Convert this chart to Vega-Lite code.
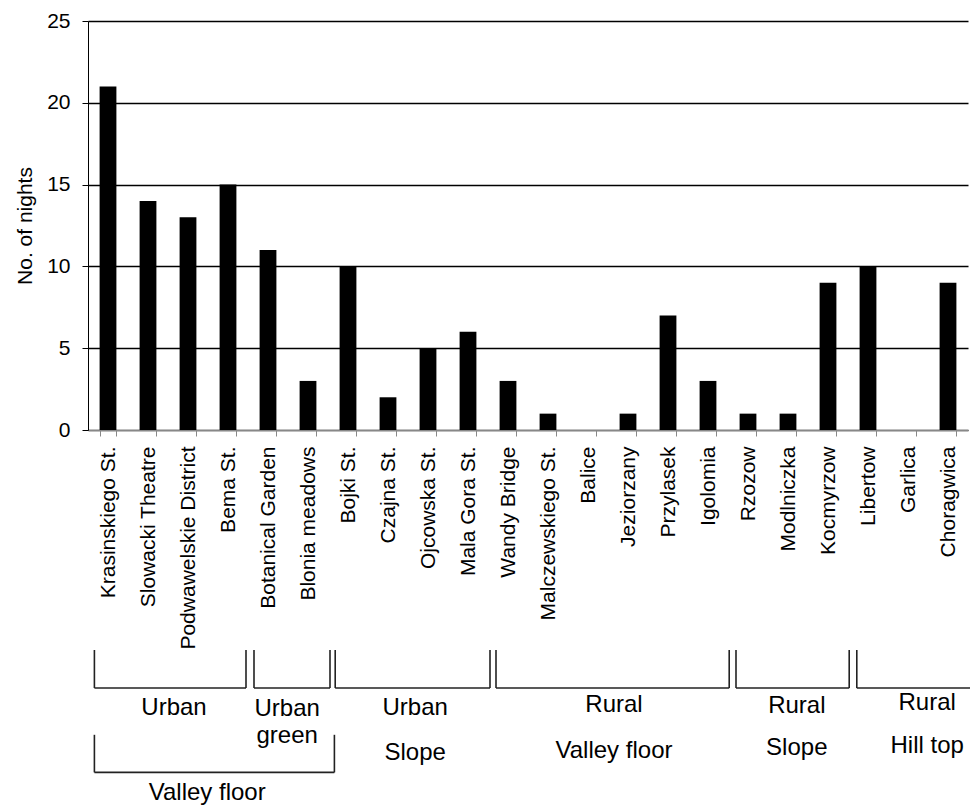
{
  "$schema": "https://vega.github.io/schema/vega-lite/v6.json",
  "padding": {"left": 14, "top": 10, "right": 0, "bottom": 0},
  "background": "white",
  "config": {
    "font": "Liberation Sans",
    "view": {"stroke": null},
    "concat": {"spacing": -3}
  },
  "datasets": {
    "nights": [
      {"site": "Krasinskiego St.", "nights": 21},
      {"site": "Slowacki Theatre", "nights": 14},
      {"site": "Podwawelskie District", "nights": 13},
      {"site": "Bema St.", "nights": 15},
      {"site": "Botanical Garden", "nights": 11},
      {"site": "Blonia meadows", "nights": 3},
      {"site": "Bojki St.", "nights": 10},
      {"site": "Czajna St.", "nights": 2},
      {"site": "Ojcowska St.", "nights": 5},
      {"site": "Mala Gora St.", "nights": 6},
      {"site": "Wandy Bridge", "nights": 3},
      {"site": "Malczewskiego St.", "nights": 1},
      {"site": "Balice", "nights": 0},
      {"site": "Jeziorzany", "nights": 1},
      {"site": "Przylasek", "nights": 7},
      {"site": "Igolomia", "nights": 3},
      {"site": "Rzozow", "nights": 1},
      {"site": "Modlniczka", "nights": 1},
      {"site": "Kocmyrzow", "nights": 9},
      {"site": "Libertow", "nights": 10},
      {"site": "Garlica", "nights": 0},
      {"site": "Choragwica", "nights": 9}
    ],
    "brackets": [
      {"group": "Urban", "start": 0.16, "end": 3.95, "top": 0, "bottom": 0.95},
      {"group": "Urban green", "start": 4.15, "end": 6.05, "top": 0, "bottom": 0.95},
      {"group": "Urban slope", "start": 6.18, "end": 10.05, "top": 0, "bottom": 0.95},
      {"group": "Rural valley floor", "start": 10.2, "end": 16.03, "top": 0, "bottom": 0.95},
      {"group": "Rural slope", "start": 16.2, "end": 19.03, "top": 0, "bottom": 0.95},
      {"group": "Rural hill top", "start": 19.22, "end": 22.1, "top": 0, "bottom": 0.95},
      {"group": "Valley floor", "start": 0.16, "end": 6.16, "top": 2.12, "bottom": 3.06}
    ],
    "labels": [
      {"label": "Urban", "pos": 2.15, "tier": 1.45},
      {"label": "Urban", "pos": 4.98, "tier": 1.47},
      {"label": "green", "pos": 4.98, "tier": 2.15},
      {"label": "Urban", "pos": 8.18, "tier": 1.45},
      {"label": "Slope", "pos": 8.18, "tier": 2.57},
      {"label": "Valley floor", "pos": 2.98, "tier": 3.57},
      {"label": "Rural", "pos": 13.15, "tier": 1.38},
      {"label": "Valley floor", "pos": 13.15, "tier": 2.52},
      {"label": "Rural", "pos": 17.72, "tier": 1.4},
      {"label": "Slope", "pos": 17.72, "tier": 2.45},
      {"label": "Rural", "pos": 20.98, "tier": 1.33},
      {"label": "Hill top", "pos": 20.98, "tier": 2.4}
    ]
  },
  "vconcat": [
    {
      "width": 880,
      "height": 409,
      "data": {"name": "nights"},
      "mark": {"type": "bar", "color": "black"},
      "encoding": {
        "x": {
          "field": "site",
          "type": "nominal",
          "sort": null,
          "scale": {"paddingInner": 0.58, "paddingOuter": 0.29},
          "axis": {
            "title": null,
            "labelAngle": -90,
            "labelFontSize": 21,
            "labelColor": "black",
            "labelPadding": 10,
            "tickBand": "extent",
            "tickSize": 6,
            "tickColor": "#888888",
            "domainColor": "#888888",
            "grid": false,
            "labelLimit": 400
          }
        },
        "y": {
          "field": "nights",
          "type": "quantitative",
          "scale": {"domain": [0, 25], "nice": false},
          "axis": {
            "title": "No. of nights",
            "titleFontSize": 21,
            "titleFontWeight": "normal",
            "titleColor": "black",
            "titlePadding": 11,
            "values": [0, 5, 10, 15, 20, 25],
            "labelFontSize": 21,
            "labelColor": "black",
            "labelPadding": 12,
            "tickSize": 6,
            "tickColor": "black",
            "domainColor": "black",
            "grid": true,
            "gridColor": "black",
            "gridOpacity": 1,
            "gridWidth": 1.5
          }
        }
      }
    },
    {
      "width": 880,
      "height": 160,
      "layer": [
        {
          "data": {"name": "brackets"},
          "mark": {"type": "rule", "color": "#222222", "strokeWidth": 1.6},
          "encoding": {
            "x": {"field": "start", "type": "quantitative", "scale": {"domain": [0, 22], "nice": false, "zero": false}, "axis": null},
            "y": {"field": "top", "type": "quantitative", "scale": {"domain": [0, 4], "nice": false, "reverse": true}, "axis": null},
            "y2": {"field": "bottom"}
          }
        },
        {
          "data": {"name": "brackets"},
          "mark": {"type": "rule", "color": "#222222", "strokeWidth": 1.6},
          "encoding": {
            "x": {"field": "end", "type": "quantitative"},
            "y": {"field": "top", "type": "quantitative"},
            "y2": {"field": "bottom"}
          }
        },
        {
          "data": {"name": "brackets"},
          "mark": {"type": "rule", "color": "#222222", "strokeWidth": 1.6},
          "encoding": {
            "x": {"field": "start", "type": "quantitative"},
            "x2": {"field": "end"},
            "y": {"field": "bottom", "type": "quantitative"}
          }
        },
        {
          "data": {"name": "labels"},
          "mark": {"type": "text", "fontSize": 24, "color": "black", "baseline": "middle", "align": "center"},
          "encoding": {
            "x": {"field": "pos", "type": "quantitative"},
            "y": {"field": "tier", "type": "quantitative"},
            "text": {"field": "label"}
          }
        }
      ]
    }
  ]
}
